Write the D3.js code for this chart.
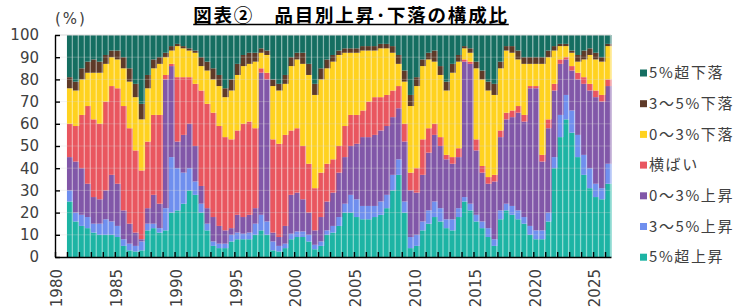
<!DOCTYPE html>
<html>
<head>
<meta charset="utf-8">
<script src="https://cdn.jsdelivr.net/npm/d3@7/dist/d3.min.js"></script>
<style>
    body { margin: 0; background: #fff; }
    svg text { font-family: "DejaVu Sans", sans-serif; fill: #404040; }
    .jp { font-family: "Noto Sans CJK JP", sans-serif; }
</style>
</head>
<body>
<svg id="chart" width="738" height="307"></svg>
<script>
// half-year periods, 1981H1 .. 2026H1
var periods = [];
for (var yr = 1981; yr <= 2026; yr++) {
    periods.push(yr + "H1");
    if (yr < 2026) periods.push(yr + "H2");
}

// shares of items (%), bottom to top of each bar
var up5 = [25,16,14,13,11,10,10,10,9,5, 3,2.5,3,12,13,11,12,20,21,24, 30,28,20,12,5,4,4,7,8,8,
    8,10,12,10,3,2.5,4,8,9,9, 7,3.5,5,10,11,14,20,20,18,17, 17,18,19,22,30,37,20,4,5,12,
    15,18,16,13,12,18,25,21,16,13, 9,5,17,21,19,17,15,10,8,8, 16,40,54,62,56,45,37,31,27,26, 33];
var up35 = [5,4,5,5,4,5,7,6,5,3, 3,2.5,4,3,2,2,10,25,19,14, 10,6,4,3,2,2,2,3,3,2.5,
    3,5,7,6,4,2.5,2,2.5,2.5,2.5, 3,2,2,2,3,4,4,8,8,6, 6,5,6,6,7,7,5,5,5,4,
    6,7,6,4,5,4,2,3,3,3, 4,3,4,3,4,4,3,4,4,4, 4,5,10,11,10,10,9,9,6,5, 9];
var up03 = [15,23,21,15,12,11,13,21,19,13, 9,6,1,7,13,11,58,41,12,17, 20,16,8,7,11,8,6,3,8,7.5,
    8,7,64,64,4,4,8,17.5,17.5,14.5, 10,6.5,11,13,15,20,21,22,25,31, 31,32,32,31,26,23,27,21,19,21,
    26,30,28,27,25,23,61,63,29,22, 20,26,33,38,40,44,43,62,64,31, 38,30,23,16,18,25,32,35,39,39, 35];
var flat = [15,16,24,35,35,34,40,40,43,47, 43,37,31,30,36,40,2,1,29,26, 21,28,43,47,47,45,42,40,38,42,
    42,36,2,3,42,42,41,29,29,24, 22,19,20,17,15,12,14,14,13,12, 16,17,15,14,12,10,8,8,11,16,
    11,5,4,2,3,4,1,1,5,3, 3,3,3,3,3,3,3,1,1,3, 4,3,2,1,2,3,3,3,3,3, 3];
var dn03 = [16,16,16,15,21,23,17,13,13,17, 21,24,23,24,21,23,8,6,14,13, 12,14,11,15,15,18,18,22,25,26,
    26,30,7,8,24,24,23,29,31,37, 40,42,42,43,44,41,33,28,28,27, 23,21,22,21,17,10,19,30,37,33,
    31,28,28,29,38,39,5,4,32,39, 39,36,28,28,26,21,23,10,10,41, 28,15,6,5,6,5,8,13,14,15, 15];
var dn35 = [5,4,5,5,6,5,4,3,4,5, 6,6,7,6,4,3,2,2,1,1, 1,1,4,4,5,5,4,5,5,5,
    5,4,2,2,3,3,4,4,3,5, 5,5,5,4,3,2,2,2,2,2, 2,2,2,2,3,4,5,5,4,3,
    3,5,4,4,4,3,1,2,3,4, 4,5,3,2,3,4,3,3,3,3, 3,2,1,1,1,3,4,3,3,2, 1];
var dn5 = [19,21,15,12,11,12,9,7,7,10, 15,22,31,18,11,10,8,5,4,5, 6,7,10,12,15,18,24,20,13,9,
    8,8,6,7,20,22,18,10,8,8, 13,22,15,11,9,7,6,6,6,5, 5,5,4,4,5,9,16,27,19,11,
    8,7,14,21,13,9,5,6,12,16, 21,22,12,5,5,7,10,10,10,10, 7,5,4,4,7,9,7,6,8,10, 4];

var seriesKeys = ["up5", "up35", "up03", "flat", "dn03", "dn35", "dn5"];
var seriesNames = ["5%超上昇", "3～5%上昇", "0～3%上昇", "横ばい", "0～3%下落", "3～5%下落", "5%超下落"];
var seriesColors = ["#1db4a4", "#6f8fee", "#8157a8", "#e9565f", "#ffd21f", "#5e3a28", "#156e61"];
var seriesValues = [up5, up35, up03, flat, dn03, dn35, dn5];

var yTicks = [0, 10, 20, 30, 40, 50, 60, 70, 80, 90, 100];
var yearTicks = d3.range(1980, 2027);
var yearLabels = [1980, 1985, 1990, 1995, 2000, 2005, 2010, 2015, 2020, 2025];

var svg = d3.select("#chart");

var table = periods.map(function (p, i) {
    var row = { period: p };
    seriesKeys.forEach(function (k, j) { row[k] = seriesValues[j][i]; });
    return row;
});
var stacked = d3.stack().keys(seriesKeys)(table);

var yearScale = d3.scaleLinear().domain([1980, 2026.5]).range([55, 611]);
var x = d3.scaleBand().domain(periods).range([yearScale(1981), yearScale(2026.5)]);
var y = d3.scaleLinear().domain([0, 100]).range([257, 35]);

// bars
var bars = svg.append("g");
bars.selectAll("g")
    .data(stacked)
    .enter()
    .append("g")
    .attr("fill", function (d, i) { return seriesColors[i]; })
    .selectAll("rect")
    .data(function (d) { return d; })
    .enter()
    .append("rect")
    .attr("x", function (d) { return x(d.data.period); })
    .attr("width", x.bandwidth() + 0.4)
    .attr("y", function (d) { return y(d[1]); })
    .attr("height", function (d) { return y(d[0]) - y(d[1]); });

// light seams between the bars
svg.append("g")
    .selectAll("rect")
    .data(periods)
    .enter()
    .append("rect")
    .attr("x", function (p) { return x(p) + x.bandwidth() - 1.2; })
    .attr("width", 1.2)
    .attr("y", y(100))
    .attr("height", y(0) - y(100))
    .attr("fill", "#ffffff")
    .attr("opacity", 0.5);

// grid lines (drawn faint over the bars)
svg.append("g")
    .selectAll("line")
    .data(yTicks.slice(1))
    .enter()
    .append("line")
    .attr("x1", yearScale(1980))
    .attr("x2", yearScale(2026.5))
    .attr("y1", function (d) { return y(d); })
    .attr("y2", function (d) { return y(d); })
    .attr("stroke", "#d9d9d9")
    .attr("stroke-width", 1)
    .attr("opacity", function (d) { return d === 100 ? 1 : 0.3; });

// y axis
var yAxis = svg.append("g")
    .attr("transform", "translate(" + yearScale(1980) + ",0)")
    .call(d3.axisLeft(y).tickValues(yTicks).tickSizeInner(-5).tickSizeOuter(0).tickPadding(16));
yAxis.selectAll("text").attr("font-size", "15px").attr("font-family", "DejaVu Sans").attr("fill", "#404040");

// x axis
var xAxis = svg.append("g")
    .attr("transform", "translate(0," + y(0) + ")")
    .call(d3.axisBottom(yearScale).tickValues(yearTicks).tickSizeInner(-5).tickSizeOuter(0).tickFormat(""));

svg.selectAll(".domain, .tick line")
    .attr("stroke", "#000")
    .attr("stroke-width", 1.4);

svg.append("g")
    .selectAll("text")
    .data(yearLabels)
    .enter()
    .append("text")
    .attr("transform", function (d) { return "translate(" + (yearScale(d) + 2) + ",269) rotate(-90)"; })
    .attr("text-anchor", "end")
    .attr("dy", "0.35em")
    .attr("font-size", "15px")
    .text(function (d) { return d; });

// unit
svg.append("text")
    .attr("x", 55)
    .attr("y", 24)
    .attr("font-size", "15px")
    .attr("letter-spacing", "2px")
    .text("(%)");

// title
var title = svg.append("text")
    .attr("class", "jp")
    .attr("x", 351)
    .attr("y", 21.5)
    .attr("text-anchor", "middle")
    .attr("font-size", "18.5px")
    .attr("font-weight", "bold")
    .attr("letter-spacing", "1.8px")
    .style("fill", "#000")
    .text("図表②　品目別上昇･下落の構成比");
var tb = title.node().getBBox();
svg.append("line")
    .attr("x1", tb.x)
    .attr("x2", tb.x + tb.width)
    .attr("y1", 24.5)
    .attr("y2", 24.5)
    .attr("stroke", "#000")
    .attr("stroke-width", 1.5);

// legend, top entry is the top of the stack
var legendOrder = d3.range(seriesKeys.length).reverse();
var legend = svg.append("g");
legendOrder.forEach(function (si, k) {
    var ly = 73 + k * 30.7;
    legend.append("rect")
        .attr("x", 640)
        .attr("y", ly - 3.5)
        .attr("width", 7)
        .attr("height", 7)
        .attr("fill", seriesColors[si]);
    legend.append("text")
        .attr("class", "jp")
        .attr("x", 649)
        .attr("y", ly)
        .attr("dy", "0.35em")
        .attr("font-size", "15px")
        .attr("letter-spacing", "1.6px")
        .text(seriesNames[si]);
});
</script>
</body>
</html>
